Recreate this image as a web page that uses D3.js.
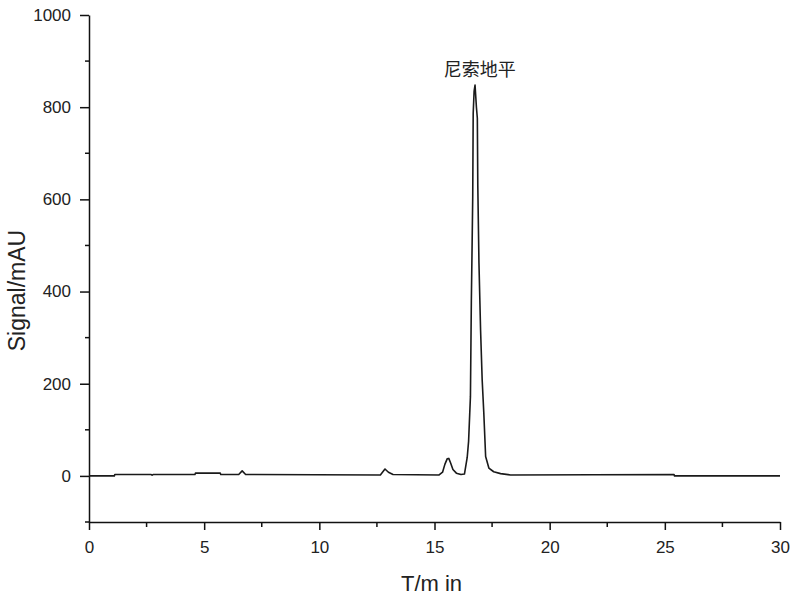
<!DOCTYPE html>
<html>
<head>
<meta charset="utf-8">
<script src="https://cdn.jsdelivr.net/npm/d3@7"></script>
<style>
  html, body { margin: 0; padding: 0; background: #fff; }
  svg { display: block; }
</style>
</head>
<body>
<svg id="chart" width="800" height="597"></svg>
<script>
// ---- data ----
const times = [
  0, 1.1, 1.12, 2.7, 2.74, 2.78, 4.6, 4.62, 5.7, 5.72, 6.5, 6.65, 6.8,
  12.65, 12.85, 13.0, 13.2,
  15.2, 15.35, 15.45, 15.55, 15.62, 15.7, 15.8, 15.95, 16.15, 16.3,
  16.42, 16.48, 16.56, 16.6, 16.63, 16.66, 16.68, 16.72, 16.76, 16.82, 16.86, 16.88,
  16.93, 17.0, 17.07, 17.14, 17.22, 17.36, 17.57, 17.87, 18.3,
  25.4, 25.42, 30
];
const signals = [
  0, 0, 3, 3, 1.5, 3, 3, 6, 6, 3, 3, 11, 3,
  2, 15, 8, 3,
  2, 8, 25, 37, 38, 28, 14, 6, 3, 4,
  40, 75, 172, 381, 490, 607, 787, 835, 848, 800, 776, 629,
  462, 317, 208, 137, 42, 17, 9, 5, 2,
  3, 0, 0
];
const xTickValues = [0, 5, 10, 15, 20, 25, 30];
const yTickValues = [0, 200, 400, 600, 800, 1000];
const xLabel = "T/m in";
const yLabel = "Signal/mAU";
const peakLabel = "尼索地平";
const peakTime = 16.75;
const peakValue = 848;

// ---- layout ----
const svg = d3.select("#chart");
const x = d3.scaleLinear().domain([0, 30]).range([89, 780]);
const y = d3.scaleLinear().domain([-100, 1000]).range([522, 15]);
const fontFam = "'Liberation Sans', Arial, sans-serif";

// minor ticks
const xMinor = d3.range(0, 30.01, 2.5).filter(v => !xTickValues.includes(v));
const yMinor = d3.range(-100, 1001, 100).filter(v => !yTickValues.includes(v));

const axisColor = "#111";

// x axis
const gx = svg.append("g").attr("transform", `translate(0,${y(-100)})`);
gx.call(d3.axisBottom(x).tickValues(xTickValues).tickFormat(d3.format("d"))
  .tickSize(8).tickPadding(11).tickSizeOuter(0));
gx.selectAll(".tick text").attr("font-size", 17).attr("font-family", fontFam).attr("fill", "#222");
gx.call(g => g.append("g").selectAll("line").data(xMinor).join("line")
  .attr("x1", d => x(d)).attr("x2", d => x(d)).attr("y1", 0).attr("y2", 5)
  .attr("stroke", axisColor).attr("stroke-width", 1.5));

// y axis
const gy = svg.append("g").attr("transform", `translate(${x(0)},0)`);
gy.call(d3.axisLeft(y).tickValues(yTickValues).tickFormat(d3.format("d"))
  .tickSize(9).tickPadding(9).tickSizeOuter(0));
gy.selectAll(".tick text").attr("font-size", 17).attr("font-family", fontFam).attr("fill", "#222");
gy.call(g => g.append("g").selectAll("line").data(yMinor).join("line")
  .attr("x1", -4).attr("x2", 0).attr("y1", d => y(d)).attr("y2", d => y(d))
  .attr("stroke", axisColor).attr("stroke-width", 1.5));

svg.selectAll(".domain, .tick line").attr("stroke", axisColor).attr("stroke-width", 1.5);

// line
const pts = times.map((t, i) => [t, signals[i]]);
svg.append("path")
  .datum(pts)
  .attr("fill", "none")
  .attr("stroke", "#1a1a1a")
  .attr("stroke-width", 1.6)
  .attr("stroke-linejoin", "round")
  .attr("d", d3.line().x(d => x(d[0])).y(d => y(d[1])));

// peak annotation
svg.append("text")
  .attr("x", x(peakTime) + 5)
  .attr("y", y(peakValue) - 9)
  .attr("text-anchor", "middle")
  .attr("font-family", "'Noto Sans CJK SC', sans-serif")
  .attr("font-size", 18)
  .attr("fill", "#222")
  .text(peakLabel);

// axis titles
svg.append("text")
  .attr("x", x(15) - 3)
  .attr("y", 591)
  .attr("text-anchor", "middle")
  .attr("font-family", fontFam)
  .attr("font-size", 22)
  .attr("fill", "#222")
  .text(xLabel);

svg.append("text")
  .attr("transform", `translate(25,${y(400) - 1}) rotate(-90)`)
  .attr("text-anchor", "middle")
  .attr("font-family", fontFam)
  .attr("font-size", 23)
  .attr("fill", "#222")
  .text(yLabel);
</script>
</body>
</html>
